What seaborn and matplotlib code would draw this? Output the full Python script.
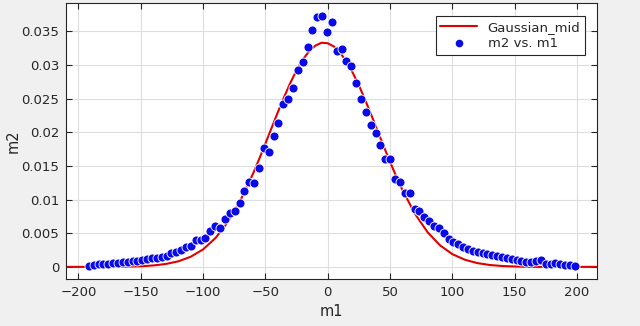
import matplotlib
matplotlib.use("Agg")
import matplotlib.pyplot as plt
import seaborn as sns
import pandas as pd
from matplotlib.lines import Line2D

# ---- data ----
m1 = [-191.7, -187.8, -183.9, -180.0, -176.1, -172.2, -168.3, -164.4, -160.5, -156.6,
      -152.7, -148.8, -144.9, -141.0, -137.1, -133.2, -129.3, -125.4, -121.5, -117.6,
      -113.7, -109.8, -105.9, -102.0, -98.1, -94.2, -90.3, -86.4, -82.5, -78.6,
      -74.7, -70.8, -66.9, -63.0, -59.1, -55.2, -51.3, -47.4, -43.5, -39.6,
      -35.7, -31.8, -27.9, -24.0, -20.1, -16.2, -12.3, -8.4, -4.5, -0.6,
      3.3, 7.2, 11.1, 15.0, 18.9, 22.8, 26.7, 30.6, 34.5, 38.4,
      42.3, 46.2, 50.1, 54.0, 57.9, 61.8, 65.7, 69.6, 73.5, 77.4,
      81.3, 85.2, 89.1, 93.0, 96.9, 100.8, 104.7, 108.6, 112.5, 116.4,
      120.3, 124.2, 128.1, 132.0, 135.9, 139.8, 143.7, 147.6, 151.5, 155.4,
      159.3, 163.2, 167.1, 171.0, 174.9, 178.8, 182.7, 186.6, 190.5, 194.4,
      198.3]
m2 = [0.00020, 0.00030, 0.00040, 0.00040, 0.00048, 0.00054, 0.00058, 0.00068, 0.00077, 0.00084,
      0.00092, 0.00104, 0.00116, 0.00126, 0.00135, 0.00145, 0.00165, 0.00200, 0.00228, 0.00250,
      0.00288, 0.00305, 0.00400, 0.00400, 0.00426, 0.00538, 0.00608, 0.00583, 0.00716, 0.00796,
      0.00835, 0.00954, 0.01132, 0.01265, 0.01241, 0.01464, 0.01760, 0.01710, 0.01943, 0.02130,
      0.02413, 0.02500, 0.02655, 0.02930, 0.03045, 0.03260, 0.03515, 0.03712, 0.03727, 0.03485,
      0.03633, 0.03208, 0.03243, 0.03055, 0.02985, 0.02739, 0.02496, 0.02303, 0.02106, 0.01983,
      0.01809, 0.01597, 0.01597, 0.01305, 0.01256, 0.01093, 0.01093, 0.00856, 0.00830, 0.00740,
      0.00687, 0.00608, 0.00574, 0.00500, 0.00415, 0.00366, 0.00340, 0.00300, 0.00262, 0.00242,
      0.00227, 0.00210, 0.00185, 0.00178, 0.00160, 0.00140, 0.00129, 0.00115, 0.00104, 0.00090,
      0.00072, 0.00068, 0.00090, 0.00100, 0.00045, 0.00050, 0.00055, 0.00045, 0.00032, 0.00025,
      0.00010]

fit_x = [-210, -200, -190, -180, -170, -160, -150, -140, -130, -120, -110, -100, -90, -80,
         -70, -60, -55, -50, -45, -40, -35, -30, -25, -20, -15, -10, -5, 0, 5, 10, 15, 20,
         25, 30, 35, 40, 45, 50, 55, 60, 70, 80, 90, 100, 110, 120, 130, 140, 150, 160,
         170, 180, 190, 200, 216]
fit_y = [0.0, 0.0, 0.000003, 0.000007, 0.000018, 0.000042, 0.000097, 0.00021, 0.00043, 0.00082,
         0.0015, 0.0026, 0.0043, 0.0067, 0.0099, 0.01383, 0.01603, 0.01833, 0.02067, 0.0230,
         0.02524, 0.02734, 0.02921, 0.0308, 0.03203, 0.03286, 0.0333, 0.03322, 0.03273, 0.0318,
         0.03051, 0.02886, 0.02696, 0.0248, 0.02253, 0.0202, 0.01786, 0.01558, 0.01341, 0.01139,
         0.00788, 0.00517, 0.00321, 0.00189, 0.00106, 0.00056, 0.00028, 0.00013, 0.00006, 0.00002,
         0.0, 0.0, 0.0, 0.0, 0.0]

xticks = [-200, -150, -100, -50, 0, 50, 100, 150, 200]
yticks = [0, 0.005, 0.01, 0.015, 0.02, 0.025, 0.03, 0.035]
ytick_labels = ["0", "0.005", "0.01", "0.015", "0.02", "0.025", "0.03", "0.035"]

pts = pd.DataFrame({"m1": m1, "m2": m2})
fit = pd.DataFrame({"x": fit_x, "y": fit_y})

sns.set_theme(style="whitegrid")
plt.rcParams['font.family'] = ['DejaVu Sans']

fig = plt.figure(figsize=(6.4, 3.26), dpi=100, facecolor="#f0f0f0")
ax = fig.add_axes([66/640, 1-279/326, (597-66)/640, (279-3)/326])
ax.set_facecolor("white")

red = "#e00000"
blue = "#0a0ae6"
sns.lineplot(data=fit, x="x", y="y", ax=ax, color=red, linewidth=1.5, zorder=2, legend=False)
sns.scatterplot(data=pts, x="m1", y="m2", ax=ax, color=blue, s=42,
                edgecolor="white", linewidth=0.6, zorder=3, legend=False)

ax.set_xlim(-210, 216)
ax.set_ylim(-0.0018, 0.0392)
ax.set_xticks(xticks)
ax.set_yticks(yticks)
ax.set_yticklabels(ytick_labels)

tc = "#262626"
ax.grid(True, color="#dedede", linewidth=0.8)
for sp in ax.spines.values():
    sp.set_visible(True)
    sp.set_color(tc)
    sp.set_linewidth(0.8)
ax.tick_params(axis="both", which="both", direction="in", length=4, width=0.8,
               color=tc, labelcolor=tc, labelsize=9.5, top=True, right=True,
               bottom=True, left=True, pad=5)
ax.set_xlabel("m1", fontsize=10.5, color=tc, labelpad=4)
ax.set_ylabel("m2", fontsize=10.5, color=tc)
ax.yaxis.set_label_coords(-0.086, 0.5)

handles = [Line2D([0], [0], color=red, lw=1.5),
           Line2D([0], [0], marker="o", color="none", markerfacecolor=blue,
                  markeredgecolor=blue, markersize=4.5)]
leg = ax.legend(handles, ["Gaussian_mid", "m2 vs. m1"], loc="upper right",
                bbox_to_anchor=(0.99, 0.975), fontsize=9.5, frameon=True,
                fancybox=False, edgecolor=tc, framealpha=1, handlelength=2.8,
                borderpad=0.35, labelspacing=0.25, handletextpad=0.8)
leg.get_frame().set_linewidth(0.8)
for t in leg.get_texts():
    t.set_color(tc)

fig.savefig("out.png", dpi=100, facecolor=fig.get_facecolor())
